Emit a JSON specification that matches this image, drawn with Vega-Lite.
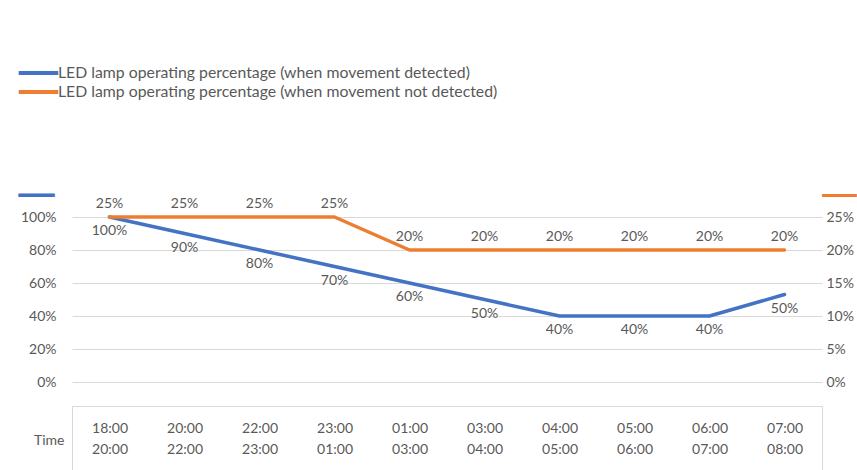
{
  "$schema": "https://vega.github.io/schema/vega-lite/v6.json",
  "autosize": {"type": "none"},
  "padding": {"left": 72, "top": 217, "right": 35, "bottom": 88},
  "width": 750,
  "height": 165,
  "background": "white",
  "config": {
    "view": {"stroke": null},
    "font": "Lato",
    "axis": {"labelFont": "Lato", "labelFontSize": 14, "labelColor": "#595959", "titleFont": "Lato"},
    "legend": {"labelFont": "Lato"}
  },
  "data": {
    "values": [
      {"time": "18:00 20:00", "detected": 1.0, "detectedLabel": "100%", "notDetected": 0.25, "notDetectedLabel": "25%"},
      {"time": "20:00 22:00", "detected": 0.9, "detectedLabel": "90%", "notDetected": 0.25, "notDetectedLabel": "25%"},
      {"time": "22:00 23:00", "detected": 0.8, "detectedLabel": "80%", "notDetected": 0.25, "notDetectedLabel": "25%"},
      {"time": "23:00 01:00", "detected": 0.7, "detectedLabel": "70%", "notDetected": 0.25, "notDetectedLabel": "25%"},
      {"time": "01:00 03:00", "detected": 0.6, "detectedLabel": "60%", "notDetected": 0.2, "notDetectedLabel": "20%"},
      {"time": "03:00 04:00", "detected": 0.5, "detectedLabel": "50%", "notDetected": 0.2, "notDetectedLabel": "20%"},
      {"time": "04:00 05:00", "detected": 0.4, "detectedLabel": "40%", "notDetected": 0.2, "notDetectedLabel": "20%"},
      {"time": "05:00 06:00", "detected": 0.4, "detectedLabel": "40%", "notDetected": 0.2, "notDetectedLabel": "20%"},
      {"time": "06:00 07:00", "detected": 0.4, "detectedLabel": "40%", "notDetected": 0.2, "notDetectedLabel": "20%"},
      {"time": "07:00 08:00", "detected": 0.53, "detectedLabel": "50%", "notDetected": 0.2, "notDetectedLabel": "20%"}
    ]
  },
  "encoding": {
    "x": {
      "field": "time",
      "type": "nominal",
      "sort": null,
      "scale": {"paddingInner": 0, "paddingOuter": 0},
      "axis": {
        "title": "Time",
        "titleAngle": 0,
        "titleAlign": "right",
        "titleBaseline": "middle",
        "titleX": -8,
        "titleY": 34,
        "titleFontSize": 14,
        "titleFontWeight": "normal",
        "titleColor": "#595959",
        "offset": 24,
        "domainColor": "#d9d9d9",
        "domainWidth": 1,
        "tickBand": "extent",
        "tickSize": 70,
        "tickColor": "#d9d9d9",
        "tickOpacity": {"condition": {"test": "datum.value === '07:00 08:00' || !!datum.extra", "value": 1}, "value": 0},
        "labelPadding": -55,
        "labelAngle": 0,
        "labelBaseline": "top",
        "labelLineHeight": 21,
        "labelExpr": "split(datum.label, ' ')",
        "grid": false
      }
    }
  },
  "layer": [
    {
      "encoding": {
        "y": {
          "field": "detected",
          "type": "quantitative",
          "scale": {"domain": [0, 1], "nice": false},
          "axis": {
            "values": [0, 0.2, 0.4, 0.6, 0.8, 1.0],
            "format": ".0%",
            "grid": true,
            "gridColor": "#d9d9d9",
            "domain": false,
            "ticks": false,
            "labelPadding": 16,
            "title": "━━━",
            "titleAngle": 0,
            "titleAlign": "center",
            "titleBaseline": "middle",
            "titleX": -36,
            "titleY": -22,
            "titleFont": "DejaVu Sans",
            "titleFontSize": 20,
            "titleFontWeight": "normal",
            "titleColor": "#4472C4"
          }
        }
      },
      "layer": [
        {
          "mark": {"type": "line", "strokeWidth": 3.5, "strokeCap": "round", "strokeJoin": "round"},
          "encoding": {
            "color": {
              "datum": "LED lamp operating percentage (when movement detected)",
              "scale": {
                "domain": ["LED lamp operating percentage (when movement detected)", "LED lamp operating percentage (when movement not detected)"],
                "range": ["#4472C4", "#ED7D31"]
              },
              "legend": {
                "title": null,
                "orient": "none",
                "legendX": -44.5,
                "legendY": -155,
                "padding": 0,
                "symbolType": "M-2.2,0H2.2",
                "symbolSize": 324,
                "symbolStrokeWidth": 4,
                "symbolFillColor": "transparent",
                "labelOffset": 8.5,
                "labelFontSize": 15.8,
                "labelColor": "#595959",
                "labelLimit": 700,
                "rowPadding": -1
              }
            }
          }
        },
        {
          "mark": {"type": "text", "dy": 14, "fontSize": 14, "color": "#595959", "font": "Lato"},
          "encoding": {"text": {"field": "detectedLabel"}}
        }
      ]
    },
    {
      "encoding": {
        "y": {
          "field": "notDetected",
          "type": "quantitative",
          "scale": {"domain": [0, 0.25], "nice": false},
          "axis": {
            "orient": "right",
            "values": [0, 0.05, 0.1, 0.15, 0.2, 0.25],
            "format": ".0%",
            "grid": false,
            "domain": false,
            "ticks": false,
            "labelPadding": 4,
            "title": "━━━",
            "titleAngle": 0,
            "titleAlign": "center",
            "titleBaseline": "middle",
            "titleX": 17,
            "titleY": -22,
            "titleFont": "DejaVu Sans",
            "titleFontSize": 19,
            "titleFontWeight": "normal",
            "titleColor": "#ED7D31"
          }
        }
      },
      "layer": [
        {
          "mark": {"type": "line", "strokeWidth": 3.5, "strokeCap": "round", "strokeJoin": "round"},
          "encoding": {
            "color": {"datum": "LED lamp operating percentage (when movement not detected)"}
          }
        },
        {
          "mark": {"type": "text", "dy": -13, "fontSize": 14, "color": "#595959", "font": "Lato"},
          "encoding": {"text": {"field": "notDetectedLabel"}}
        }
      ]
    }
  ],
  "resolve": {"scale": {"y": "independent"}}
}
